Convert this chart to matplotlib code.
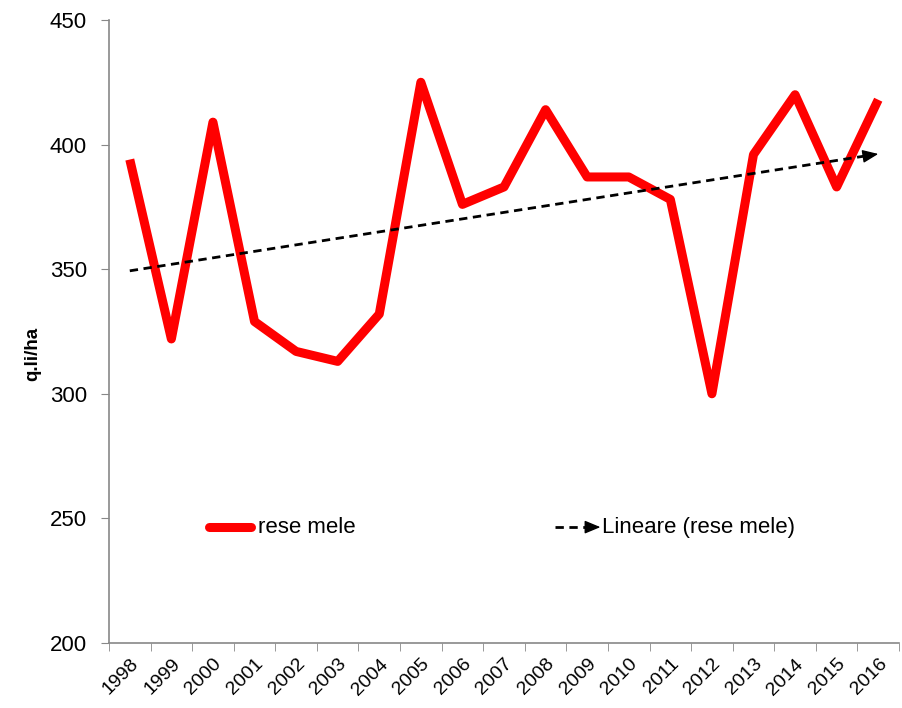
#!/usr/bin/env python
"""Rese mele 1998-2016 with linear trend."""

import numpy as np
import matplotlib
matplotlib.use('Agg')
import matplotlib.pyplot as plt
import matplotlib.transforms as mtransforms


YEARS = ['1998', '1999', '2000', '2001', '2002', '2003', '2004', '2005',
         '2006', '2007', '2008', '2009', '2010', '2011', '2012', '2013',
         '2014', '2015', '2016']
RESE = [394, 322, 409, 329, 317, 313, 332, 425, 376, 383,
        414, 387, 387, 378, 300, 396, 420, 383, 418]
YTICKS = [200, 250, 300, 350, 400, 450]

HEAD = dict(arrowstyle='-|>,head_length=0.6,head_width=0.25', color='k',
            lw=1, mutation_scale=16, shrinkA=0, shrinkB=0)


def main():
    plt.rc('font', family=['Liberation Sans', 'DejaVu Sans'])

    fig = plt.figure(figsize=(9.03, 7.08), dpi=100)
    ax = fig.add_axes([0.1207, 0.0918, 0.8749, 0.8800])

    x = np.arange(len(YEARS))
    y = np.array(RESE, dtype=float)

    # data series
    ax.plot(x, y, color='#ff0000', lw=6.5, solid_joinstyle='round',
            solid_capstyle='butt', zorder=3)

    # linear trend (Excel "Lineare"): dashed line with solid head at the end
    slope, inter = np.polyfit(x, y, 1)
    trend = slope * x + inter
    xe = x[-1] - 0.3
    ax.plot([x[0], xe], [trend[0], slope * xe + inter], color='k', lw=2,
            ls=(0, (3, 2)), zorder=4)
    ax.annotate('', xy=(x[-1], trend[-1]), xytext=(xe, slope * xe + inter),
                arrowprops=HEAD, zorder=4)

    # axes
    ax.set_xlim(-0.5, len(YEARS) - 0.5)
    ax.set_ylim(200, 450)
    ax.set_yticks(YTICKS)
    ax.set_yticklabels([str(t) for t in YTICKS], fontsize=16)
    ax.set_xticks(x)
    ax.set_xticklabels(YEARS, rotation=45, ha='right', va='top',
                       rotation_mode='anchor', fontsize=14)
    shift = mtransforms.ScaledTranslation(5 / 72, 0, fig.dpi_scale_trans)
    for lab in ax.get_xticklabels():
        lab.set_transform(lab.get_transform() + shift)
    ax.tick_params(axis='x', length=0, pad=9)
    ax.set_xticks(np.arange(-0.5, len(YEARS)), minor=True)
    ax.tick_params(axis='x', which='minor', length=6, color='#888888',
                   direction='out')
    ax.tick_params(axis='y', length=6, color='#888888', direction='out',
                   pad=10)
    for side in ['top', 'right']:
        ax.spines[side].set_visible(False)
    for side in ['left', 'bottom']:
        ax.spines[side].set_color('#888888')
        ax.spines[side].set_linewidth(1.2)

    fig.text(0.036, 0.50, 'q.li/ha', rotation=90, ha='center', va='center',
             fontsize=13.5, weight='bold')

    # legend, drawn by hand so the trend key carries its arrow head
    ly = 0.186
    ax.plot([0.127, 0.180], [ly, ly], transform=ax.transAxes, color='#ff0000',
            lw=6.5, solid_capstyle='round', clip_on=False)
    ax.text(0.188, ly, 'rese mele', transform=ax.transAxes, fontsize=16,
            va='center', ha='left')
    ax.plot([0.565, 0.609], [ly, ly], transform=ax.transAxes, color='k',
            lw=2, ls=(0, (3, 2)))
    ax.annotate('', xy=(0.622, ly), xytext=(0.604, ly),
                xycoords='axes fraction', textcoords='axes fraction',
                arrowprops=HEAD)
    ax.text(0.624, ly, 'Lineare (rese mele)', transform=ax.transAxes,
            fontsize=16, va='center', ha='left')

    fig.savefig('out.png', dpi=100)
    plt.close(fig)


if __name__ == '__main__':
    main()
